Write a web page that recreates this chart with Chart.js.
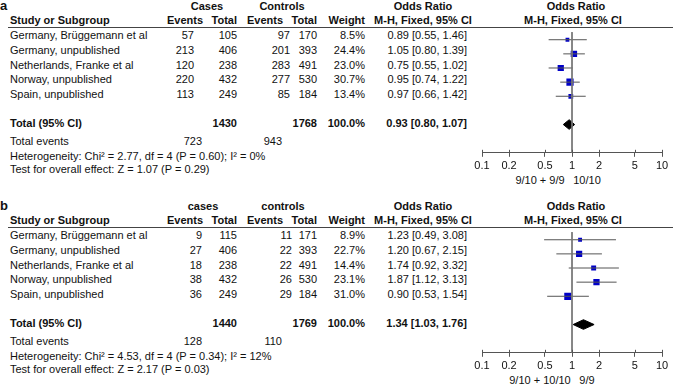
<!DOCTYPE html>
<html>
<head>
<meta charset="utf-8">
<script src="https://cdn.jsdelivr.net/npm/chart.js@4.4.1/dist/chart.umd.min.js"></script>
<style>
body { margin: 0; background: #fff; width: 673px; height: 386px; overflow: hidden; position: relative;
       font-family: "Liberation Sans", Arial, sans-serif; font-size: 11px; color: #111; }
.t { position: absolute; white-space: nowrap; line-height: 14px; height: 14px; }
.b { font-weight: bold; }
.lbl { font-size: 13px; }
.rule { position: absolute; left: 8px; width: 665px; height: 0; border-top: 1px solid #444; }
canvas { position: absolute; }
</style>
</head>
<body>
<script>
// Shared
const studies = ['Germany, Brüggemann et al', 'Germany, unpublished', 'Netherlands, Franke et al',
                 'Norway, unpublished', 'Spain, unpublished'];
const tickValues = [0.1, 0.2, 0.5, 1, 2, 5, 10];

// Panel a
const aCaseEvents = [57, 213, 120, 220, 113];
const aCaseTotal = [105, 406, 238, 432, 249];
const aCtrlEvents = [97, 201, 283, 277, 85];
const aCtrlTotal = [170, 393, 491, 530, 184];
const aWeight = [8.5, 24.4, 23.0, 30.7, 13.4];
const aOR = [0.89, 1.05, 0.75, 0.95, 0.97];
const aLow = [0.55, 0.80, 0.55, 0.74, 0.66];
const aHigh = [1.46, 1.39, 1.02, 1.22, 1.42];
const aTotals = [1430, 1768];
const aTotalEvents = [723, 943];
const aPooled = [0.93, 0.80, 1.07];   // estimate, low, high
const aHetero = 'Heterogeneity: Chi² = 2.77, df = 4 (P = 0.60); I² = 0%';
const aTest = 'Test for overall effect: Z = 1.07 (P = 0.29)';
const aFavours = ['9/10 + 9/9', '10/10'];

// Panel b
const bCaseEvents = [9, 27, 18, 38, 36];
const bCaseTotal = [115, 406, 238, 432, 249];
const bCtrlEvents = [11, 22, 22, 26, 29];
const bCtrlTotal = [171, 393, 491, 530, 184];
const bWeight = [8.9, 22.7, 14.4, 23.1, 31.0];
const bOR = [1.23, 1.20, 1.74, 1.87, 0.90];
const bLow = [0.49, 0.67, 0.92, 1.12, 0.53];
const bHigh = [3.08, 2.15, 3.32, 3.13, 1.54];
const bTotals = [1440, 1769];
const bTotalEvents = [128, 110];
const bPooled = [1.34, 1.03, 1.76];
const bHetero = 'Heterogeneity: Chi² = 4.53, df = 4 (P = 0.34); I² = 12%';
const bTest = 'Test for overall effect: Z = 2.17 (P = 0.03)';
const bFavours = ['9/10 + 10/10', '9/9'];

// Layout (row units on the plot's y scale)
const Y_MIN = 0.46, Y_MAX = 9.0, TOTAL_ROW = 7, DIAMOND_HALF = 0.34;
const ROW_PX = 14.75;

// small tick marks above the axis line, so ticks cross it like in RevMan
const crossTicks = {
    id: 'crossTicks',
    afterDraw(chart) {
        const xs = chart.scales.x;
        const ctx = chart.ctx;
        const y = chart.chartArea.bottom;
        ctx.save();
        ctx.strokeStyle = '#555';
        ctx.lineWidth = 1;
        xs.ticks.forEach(t => {
            const px = Math.round(xs.getPixelForValue(t.value)) + 0.5;
            ctx.beginPath();
            ctx.moveTo(px, y - 3);
            ctx.lineTo(px, y);
            ctx.stroke();
        });
        ctx.restore();
    }
};

function addText(x, y, s, align, cls) {
    const d = document.createElement('div');
    d.className = 't' + (cls ? ' ' + cls : '');
    d.textContent = s;
    if (align === 'right') {
        d.style.left = (x - 300) + 'px'; d.style.width = '300px'; d.style.textAlign = 'right';
    } else if (align === 'center') {
        d.style.left = (x - 150) + 'px'; d.style.width = '300px'; d.style.textAlign = 'center';
    } else {
        d.style.left = x + 'px';
    }
    d.style.top = (y - 7) + 'px';
    document.body.appendChild(d);
}

function ciText(v, lo, hi) {
    return `${v.toFixed(2)} [${lo.toFixed(2)}, ${hi.toFixed(2)}]`;
}

function drawPanel(p) {
    const T = p.top;

    // headers
    addText(0, T + 6, p.label, 'left', 'b lbl');
    addText(p.caseHeadX, T + 6, p.caseHead, 'center', 'b');
    addText(p.ctrlHeadX, T + 6, p.ctrlHead, 'center', 'b');
    addText(423, T + 6, 'Odds Ratio', 'center', 'b');
    addText(576, T + 6, 'Odds Ratio', 'center', 'b');
    addText(10, T + 19.5, 'Study or Subgroup', 'left', 'b');
    addText(203, T + 19.5, 'Events', 'right', 'b');
    addText(237, T + 19.5, 'Total', 'right', 'b');
    addText(283, T + 19.5, 'Events', 'right', 'b');
    addText(317, T + 19.5, 'Total', 'right', 'b');
    addText(365, T + 19.5, 'Weight', 'right', 'b');
    addText(423, T + 19.5, 'M-H, Fixed, 95% CI', 'center', 'b');
    addText(573, T + 19.5, 'M-H, Fixed, 95% CI', 'center', 'b');

    const rule = document.createElement('div');
    rule.className = 'rule';
    rule.style.top = (T + 27) + 'px';
    document.body.appendChild(rule);

    // study rows
    studies.forEach((name, i) => {
        const y = T + 35 + i * ROW_PX;
        addText(10, y, name, 'left');
        addText(p.caseEvX, y, String(p.caseEvents[i]), 'right');
        addText(237, y, String(p.caseTotal[i]), 'right');
        addText(p.ctrlEvX, y, String(p.ctrlEvents[i]), 'right');
        addText(317, y, String(p.ctrlTotal[i]), 'right');
        addText(365, y, p.weight[i].toFixed(1) + '%', 'right');
        addText(467, y, ciText(p.or[i], p.low[i], p.high[i]), 'right');
    });

    // totals
    addText(10, T + 123, 'Total (95% CI)', 'left', 'b');
    addText(237, T + 123, String(p.totals[0]), 'right', 'b');
    addText(317, T + 123, String(p.totals[1]), 'right', 'b');
    addText(365, T + 123, '100.0%', 'right', 'b');
    addText(467, T + 123, ciText(p.pooled[0], p.pooled[1], p.pooled[2]), 'right', 'b');
    addText(10, T + 141, 'Total events', 'left');
    addText(202, T + 141, String(p.totalEvents[0]), 'right');
    addText(282, T + 141, String(p.totalEvents[1]), 'right');
    addText(10, T + 156, p.hetero, 'left');
    addText(10, T + 169, p.test, 'left');

    addText(540, T + 180, p.favours[0], 'center');
    addText(587, T + 180, p.favours[1], 'center');

    // forest plot
    const canvas = document.createElement('canvas');
    canvas.width = 233;
    canvas.height = 149;
    canvas.style.left = '440px';
    canvas.style.top = (T + 27) + 'px';
    document.body.appendChild(canvas);

    const datasets = [];
    datasets.push({
        data: [{ x: 1, y: Y_MIN }, { x: 1, y: Y_MAX }],
        showLine: true, borderColor: '#777', borderWidth: 1, pointRadius: 0
    });
    p.low.forEach((lo, i) => {
        datasets.push({
            data: [{ x: lo, y: i + 1 }, { x: p.high[i], y: i + 1 }],
            showLine: true, borderColor: '#555', borderWidth: 1, pointRadius: 0
        });
    });
    datasets.push({
        data: p.or.map((v, i) => ({ x: v, y: i + 1 })),
        showLine: false,
        pointStyle: 'rect',
        pointRadius: p.weight.map(w => 0.92 * Math.sqrt(w)),
        backgroundColor: '#0000c8',
        borderColor: '#0000c8',
        borderWidth: 0
    });
    const [est, lo, hi] = p.pooled;
    datasets.push({
        data: [{ x: lo, y: TOTAL_ROW }, { x: est, y: TOTAL_ROW - DIAMOND_HALF }, { x: hi, y: TOTAL_ROW }],
        showLine: true, borderColor: '#000', borderWidth: 1, pointRadius: 0, fill: false
    });
    datasets.push({
        data: [{ x: lo, y: TOTAL_ROW }, { x: est, y: TOTAL_ROW + DIAMOND_HALF }, { x: hi, y: TOTAL_ROW }],
        showLine: true, borderColor: '#000', borderWidth: 1, pointRadius: 0,
        fill: '-1', backgroundColor: '#000'
    });

    new Chart(canvas.getContext('2d'), {
        type: 'scatter',
        data: { datasets: datasets },
        plugins: [crossTicks],
        options: {
            responsive: false,
            animation: false,
            events: [],
            layout: { padding: { left: 42, right: 11, top: 0, bottom: 0 } },
            plugins: { legend: { display: false }, tooltip: { enabled: false } },
            scales: {
                x: {
                    type: 'logarithmic',
                    min: 0.1,
                    max: 10,
                    afterBuildTicks: scale => { scale.ticks = tickValues.map(v => ({ value: v })); },
                    ticks: {
                        autoSkip: false, maxRotation: 0, padding: 3, color: '#111',
                        font: { family: 'Liberation Sans', size: 11 },
                        callback: v => String(v)
                    },
                    grid: { drawOnChartArea: false, tickLength: 4, color: '#555' },
                    border: { color: '#555' }
                },
                y: { type: 'linear', min: Y_MIN, max: Y_MAX, reverse: true, display: false }
            }
        }
    });
}

drawPanel({
    top: 0, label: 'a', caseHead: 'Cases', ctrlHead: 'Controls', caseHeadX: 207, ctrlHeadX: 282,
    caseEvX: 194, ctrlEvX: 290,
    caseEvents: aCaseEvents, caseTotal: aCaseTotal, ctrlEvents: aCtrlEvents, ctrlTotal: aCtrlTotal,
    weight: aWeight, or: aOR, low: aLow, high: aHigh, totals: aTotals, totalEvents: aTotalEvents,
    pooled: aPooled, hetero: aHetero, test: aTest, favours: aFavours
});

drawPanel({
    top: 200, label: 'b', caseHead: 'cases', ctrlHead: 'controls', caseHeadX: 203, ctrlHeadX: 283,
    caseEvX: 202, ctrlEvX: 292,
    caseEvents: bCaseEvents, caseTotal: bCaseTotal, ctrlEvents: bCtrlEvents, ctrlTotal: bCtrlTotal,
    weight: bWeight, or: bOR, low: bLow, high: bHigh, totals: bTotals, totalEvents: bTotalEvents,
    pooled: bPooled, hetero: bHetero, test: bTest, favours: bFavours
});
</script>
</body>
</html>
